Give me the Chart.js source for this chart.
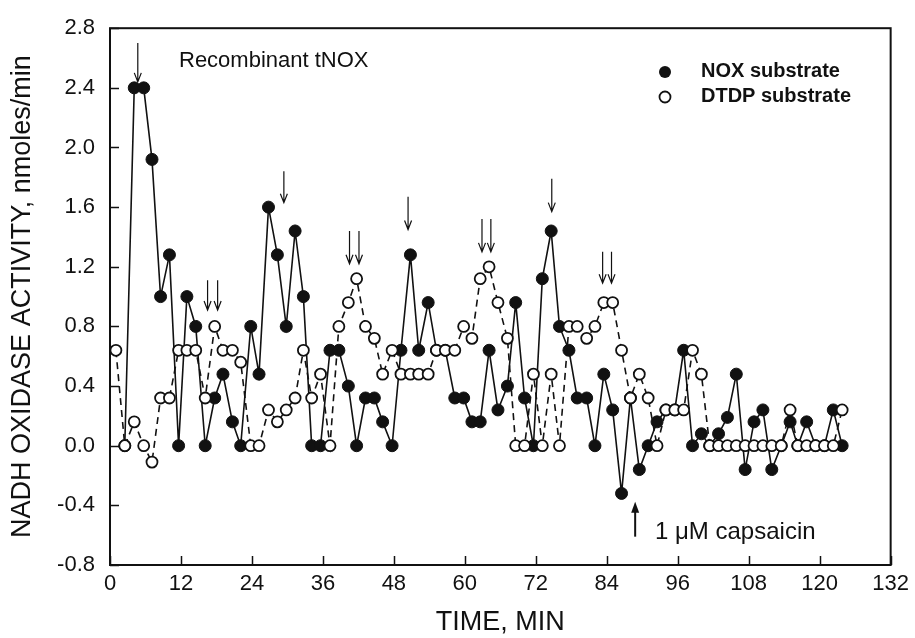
<!DOCTYPE html>
<html>
<head>
<meta charset="utf-8">
<script src="https://cdn.jsdelivr.net/npm/chart.js@4.4.1/dist/chart.umd.min.js"></script>
<style>
  html, body { margin:0; padding:0; background:#fff; }
</style>
</head>
<body>
<canvas id="chart" width="915" height="638"></canvas>
<script>
// sampling times (min)
const times = [1.0, 2.5, 4.1, 5.7, 7.1, 8.55, 10.05, 11.6, 13.0, 14.5,
  16.1, 17.7, 19.1, 20.7, 22.1, 23.8, 25.2, 26.8, 28.3, 29.8,
  31.3, 32.7, 34.1, 35.6, 37.2, 38.7, 40.3, 41.7, 43.2, 44.7,
  46.1, 47.7, 49.2, 50.8, 52.2, 53.8, 55.2, 56.7, 58.3, 59.8,
  61.2, 62.6, 64.1, 65.6, 67.2, 68.6, 70.1, 71.6, 73.1, 74.6,
  76.0, 77.6, 79.0, 80.6, 82.0, 83.5, 85.0, 86.5, 88.0, 89.5,
  91.0, 92.5, 94.0, 95.5, 97.0, 98.5, 100.0, 101.4, 102.9, 104.4,
  105.9, 107.4, 108.9, 110.4, 111.9, 113.5, 115.0, 116.3, 117.8, 119.3,
  120.8, 122.3, 123.8];

const noxValues = [null, 0, 2.4, 2.4, 1.92, 1.0, 1.28, 0, 1.0, 0.8,
  0, 0.32, 0.48, 0.16, 0, 0.8, 0.48, 1.6, 1.28, 0.8,
  1.44, 1.0, 0, 0, 0.64, 0.64, 0.4, 0, 0.32, 0.32,
  0.16, 0, 0.64, 1.28, 0.64, 0.96, 0.64, 0.64, 0.32, 0.32,
  0.16, 0.16, 0.64, 0.24, 0.4, 0.96, 0.32, 0, 1.12, 1.44,
  0.8, 0.64, 0.32, 0.32, 0, 0.48, 0.24, -0.32, 0.32, -0.16,
  0, 0.16, 0.24, 0.24, 0.64, 0, 0.08, 0, 0.08, 0.19,
  0.48, -0.16, 0.16, 0.24, -0.16, 0, 0.16, 0, 0.16, 0,
  0, 0.24, 0];

const dtdpValues = [0.64, 0, 0.16, 0, -0.11, 0.32, 0.32, 0.64, 0.64, 0.64,
  0.32, 0.8, 0.64, 0.64, 0.56, 0, 0, 0.24, 0.16, 0.24,
  0.32, 0.64, 0.32, 0.48, 0, 0.8, 0.96, 1.12, 0.8, 0.72,
  0.48, 0.64, 0.48, 0.48, 0.48, 0.48, 0.64, 0.64, 0.64, 0.8,
  0.72, 1.12, 1.2, 0.96, 0.72, 0, 0, 0.48, 0, 0.48,
  0, 0.8, 0.8, 0.72, 0.8, 0.96, 0.96, 0.64, 0.32, 0.48,
  0.32, 0, 0.24, 0.24, 0.24, 0.64, 0.48, 0, 0, 0,
  0, 0, 0, 0, 0, 0, 0.24, 0, 0, 0,
  0, 0, 0.24];

const xTicks = [0, 12, 24, 36, 48, 60, 72, 84, 96, 108, 120, 132];
const yTicks = [-0.8, -0.4, 0.0, 0.4, 0.8, 1.2, 1.6, 2.0, 2.4, 2.8];

// marker arrows: [time, tip value, tail value]
const downArrows = [[4.7, 2.44, 2.70], [16.5, 0.91, 1.11], [18.2, 0.91, 1.11],
  [29.4, 1.63, 1.84], [40.5, 1.22, 1.44], [42.1, 1.22, 1.44], [50.4, 1.45, 1.67],
  [62.9, 1.30, 1.52], [64.4, 1.30, 1.52], [74.7, 1.57, 1.79], [83.3, 1.09, 1.30],
  [84.8, 1.09, 1.30]];
const capsaicinArrow = [88.8, -0.375, -0.61];

const FONT = '"Liberation Sans", Arial, Helvetica, sans-serif';

function toPoints(vals){
  const pts = [];
  vals.forEach((v, i) => { if (v !== null) pts.push({ x: times[i], y: v }); });
  return pts;
}

const decorations = {
  id: 'decorations',
  afterDraw(chart){
    const { ctx, chartArea: a, scales: { x, y } } = chart;
    ctx.save();
    ctx.strokeStyle = '#111';
    ctx.fillStyle = '#111';

    // frame
    ctx.lineWidth = 2;
    ctx.strokeRect(a.left, a.top, a.right - a.left, a.bottom - a.top);

    // inward tick marks
    ctx.lineWidth = 1.5;
    ctx.beginPath();
    xTicks.forEach(t => {
      const px = Math.round(x.getPixelForValue(t)) + 0.5;
      ctx.moveTo(px, a.bottom); ctx.lineTo(px, a.bottom - 9);
    });
    yTicks.forEach(t => {
      const py = Math.round(y.getPixelForValue(t)) + 0.5;
      ctx.moveTo(a.left, py); ctx.lineTo(a.left + 9, py);
    });
    ctx.stroke();

    // thin down arrows
    ctx.lineWidth = 1.2;
    downArrows.forEach(([t, tip, tail]) => {
      const px = x.getPixelForValue(t);
      const y1 = y.getPixelForValue(tail), y2 = y.getPixelForValue(tip);
      ctx.beginPath();
      ctx.moveTo(px, y1); ctx.lineTo(px, y2);
      ctx.moveTo(px - 3.5, y2 - 9); ctx.lineTo(px, y2); ctx.lineTo(px + 3.5, y2 - 9);
      ctx.stroke();
    });

    // capsaicin arrow
    const cx = x.getPixelForValue(capsaicinArrow[0]);
    const cTip = y.getPixelForValue(capsaicinArrow[1]);
    const cTail = y.getPixelForValue(capsaicinArrow[2]);
    ctx.lineWidth = 2;
    ctx.beginPath();
    ctx.moveTo(cx, cTail); ctx.lineTo(cx, cTip + 8);
    ctx.stroke();
    ctx.beginPath();
    ctx.moveTo(cx, cTip); ctx.lineTo(cx - 4, cTip + 11); ctx.lineTo(cx + 4, cTip + 11);
    ctx.closePath(); ctx.fill();

    // texts
    ctx.textBaseline = 'middle';
    ctx.textAlign = 'left';
    ctx.font = '22px ' + FONT;
    ctx.fillText('Recombinant tNOX', 179, 61);
    ctx.font = '24px ' + FONT;
    ctx.fillText('1 \u03BCM capsaicin', 655, 532);

    // legend
    ctx.font = 'bold 20px ' + FONT;
    ctx.fillText('NOX substrate', 701, 71);
    ctx.fillText('DTDP substrate', 701, 96);
    ctx.beginPath(); ctx.arc(665, 72, 6, 0, Math.PI * 2); ctx.fill();
    ctx.fillStyle = '#fff'; ctx.lineWidth = 1.8;
    ctx.beginPath(); ctx.arc(665, 97, 5.5, 0, Math.PI * 2); ctx.fill(); ctx.stroke();

    ctx.restore();
  }
};

new Chart(document.getElementById('chart'), {
  type: 'scatter',
  data: {
    datasets: [
      { label: 'NOX substrate', data: toPoints(noxValues), showLine: true,
        borderColor: '#111', borderWidth: 1.6, pointRadius: 6,
        pointBackgroundColor: '#111', pointBorderColor: '#111', pointBorderWidth: 1, order: 1 },
      { label: 'DTDP substrate', data: toPoints(dtdpValues), showLine: true,
        borderColor: '#111', borderWidth: 1.6, borderDash: [7, 5], pointRadius: 5.5,
        pointBackgroundColor: '#fff', pointBorderColor: '#111', pointBorderWidth: 1.8, order: 0 }
    ]
  },
  options: {
    responsive: false,
    animation: false,
    devicePixelRatio: 1,
    layout: { padding: { top: 27, right: 18, left: 0, bottom: 0 } },
    plugins: { legend: { display: false }, tooltip: { enabled: false } },
    scales: {
      x: {
        type: 'linear', min: 0, max: 132,
        afterBuildTicks: s => { s.ticks = xTicks.map(v => ({ value: v })); },
        afterFit: s => { s.height = 73; },
        grid: { display: false, drawTicks: false },
        border: { display: false },
        ticks: { padding: 6, color: '#111', maxRotation: 0, autoSkip: false,
                 font: { family: FONT, size: 22 } },
        title: { display: true, text: 'TIME, MIN', color: '#111', padding: 0,
                 font: { family: FONT, size: 27, lineHeight: 1.15 } }
      },
      y: {
        min: -0.8, max: 2.8,
        afterBuildTicks: s => { s.ticks = yTicks.map(v => ({ value: v })); },
        afterFit: s => { s.width = 110; },
        grid: { display: false, drawTicks: false },
        border: { display: false },
        ticks: { padding: 15, color: '#111', autoSkip: false,
                 font: { family: FONT, size: 22 },
                 callback: v => Number(v).toFixed(1) },
        title: { display: true, text: 'NADH OXIDASE ACTIVITY, nmoles/min', color: '#111',
                 padding: { top: 6, bottom: 0 },
                 font: { family: FONT, size: 27, lineHeight: 1.2 } }
      }
    }
  },
  plugins: [decorations]
});
</script>
</body>
</html>
